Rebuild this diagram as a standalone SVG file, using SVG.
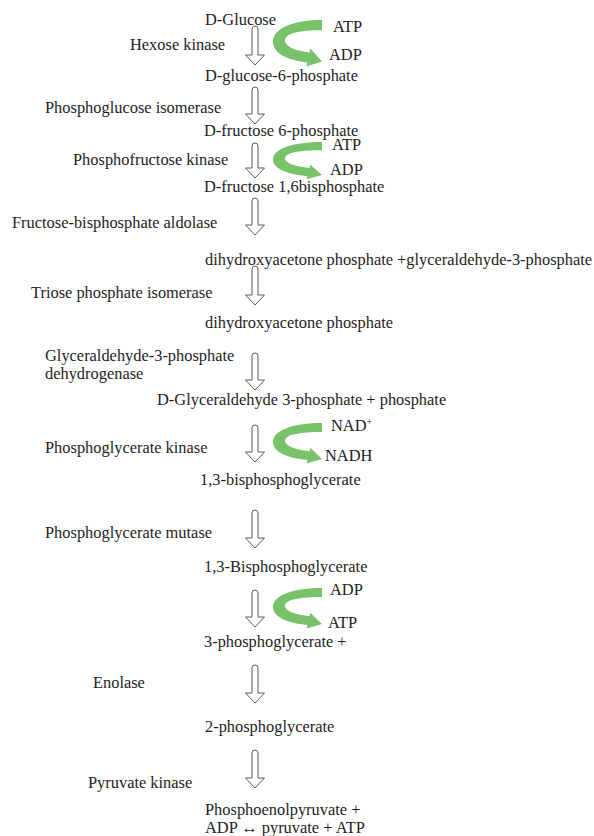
<svg xmlns="http://www.w3.org/2000/svg" width="594" height="836" viewBox="0 0 594 836">
<defs>
<style>
text{font-family:"Liberation Serif","Times New Roman",serif;font-size:16.4px;fill:#1e1e1e}
.ha{fill:#fff;stroke:#5a5a5a;stroke-width:1}
.ga{fill:#78C26A}
</style>
<path id="green" d="M0,0 L0,9 C-20,9 -37,11 -37,18 C-37,23 -26,27 -12.5,28.2 L-11.7,24.8 L0,36 L-15.5,40.4 L-14.7,37 C-35,35 -49,29 -49,19 C-49,7 -28,0 0,0 Z"/>
</defs>
<rect width="594" height="836" fill="#fff"/>
<g id="connectors">
<path class="ha" d="M252,29 A3,3 0 0 1 258,29 L258,55 L264.5,55 L255,65 L245.5,55 L252,55 Z"/>
<path class="ha" d="M252,90 A3,3 0 0 1 258,90 L258,114 L264.5,114 L255,124 L245.5,114 L252,114 Z"/>
<path class="ha" d="M252,146 A3,3 0 0 1 258,146 L258,168 L264.5,168 L255,178 L245.5,168 L252,168 Z"/>
<path class="ha" d="M252,201 A3,3 0 0 1 258,201 L258,225 L264.5,225 L255,235 L245.5,225 L252,225 Z"/>
<path class="ha" d="M252,269 A3,3 0 0 1 258,269 L258,295 L264.5,295 L255,305 L245.5,295 L252,295 Z"/>
<path class="ha" d="M252,356 A3,3 0 0 1 258,356 L258,380 L264.5,380 L255,390 L245.5,380 L252,380 Z"/>
<path class="ha" d="M252,428 A3,3 0 0 1 258,428 L258,452 L264.5,452 L255,462 L245.5,452 L252,452 Z"/>
<path class="ha" d="M252,513 A3,3 0 0 1 258,513 L258,538 L264.5,538 L255,548 L245.5,538 L252,538 Z"/>
<path class="ha" d="M252,593 A3,3 0 0 1 258,593 L258,617 L264.5,617 L255,627 L245.5,617 L252,617 Z"/>
<path class="ha" d="M252,668 A3,3 0 0 1 258,668 L258,693 L264.5,693 L255,703 L245.5,693 L252,693 Z"/>
<path class="ha" d="M252,753 A3,3 0 0 1 258,753 L258,778 L264.5,778 L255,788 L245.5,778 L252,778 Z"/>
<use href="#green" class="ga" transform="translate(322,20) scale(1,1.15)"/>
<use href="#green" class="ga" transform="translate(322,142) scale(1,0.92)"/>
<use href="#green" class="ga" transform="translate(322,423)"/>
<use href="#green" class="ga" transform="translate(322,588)"/>
</g>
<g id="n-glucose"><text x="205" y="25">D-Glucose</text></g>
<g id="e-hexokinase"><text x="130" y="50">Hexose kinase</text></g>
<g id="c-atp1"><text x="333" y="32">ATP</text></g>
<g id="c-adp1"><text x="329" y="60">ADP</text></g>
<g id="n-g6p"><text x="205" y="81">D-glucose-6-phosphate</text></g>
<g id="e-pgi"><text x="45" y="112.5">Phosphoglucose isomerase</text></g>
<g id="n-f6p"><text x="204" y="136">D-fructose 6-phosphate</text></g>
<g id="c-atp2"><text x="332" y="150">ATP</text></g>
<g id="e-pfk"><text x="73" y="165">Phosphofructose kinase</text></g>
<g id="c-adp2"><text x="330" y="175">ADP</text></g>
<g id="n-f16bp"><text x="204" y="191.5">D-fructose 1,6bisphosphate</text></g>
<g id="e-aldolase"><text x="12" y="228">Fructose-bisphosphate aldolase</text></g>
<g id="n-dhap-g3p"><text x="205" y="265">dihydroxyacetone phosphate +glyceraldehyde-3-phosphate</text></g>
<g id="e-tpi"><text x="31" y="298">Triose phosphate isomerase</text></g>
<g id="n-dhap"><text x="205" y="328">dihydroxyacetone phosphate</text></g>
<g id="e-gapdh"><text x="45" y="361">Glyceraldehyde-3-phosphate</text><text x="45" y="379">dehydrogenase</text></g>
<g id="n-g3p"><text x="157" y="405">D-Glyceraldehyde 3-phosphate + phosphate</text></g>
<g id="c-nad"><text x="331" y="431">NAD<tspan font-size="10" dy="-6">+</tspan></text></g>
<g id="e-pgk"><text x="45" y="453">Phosphoglycerate kinase</text></g>
<g id="c-nadh"><text x="325" y="461">NADH</text></g>
<g id="n-13bpg"><text x="200" y="485">1,3-bisphosphoglycerate</text></g>
<g id="e-pgm"><text x="45" y="538">Phosphoglycerate mutase</text></g>
<g id="n-13bpg2"><text x="204" y="572">1,3-Bisphosphoglycerate</text></g>
<g id="c-adp3"><text x="330" y="595">ADP</text></g>
<g id="c-atp3"><text x="328" y="628">ATP</text></g>
<g id="n-3pg"><text x="204" y="647">3-phosphoglycerate +</text></g>
<g id="e-enolase"><text x="93" y="688">Enolase</text></g>
<g id="n-2pg"><text x="205" y="732">2-phosphoglycerate</text></g>
<g id="e-pk"><text x="88" y="788">Pyruvate kinase</text></g>
<g id="n-pep"><text x="205" y="815">Phosphoenolpyruvate +</text><text x="205" y="833">ADP ↔ pyruvate + ATP</text></g>
</svg>
